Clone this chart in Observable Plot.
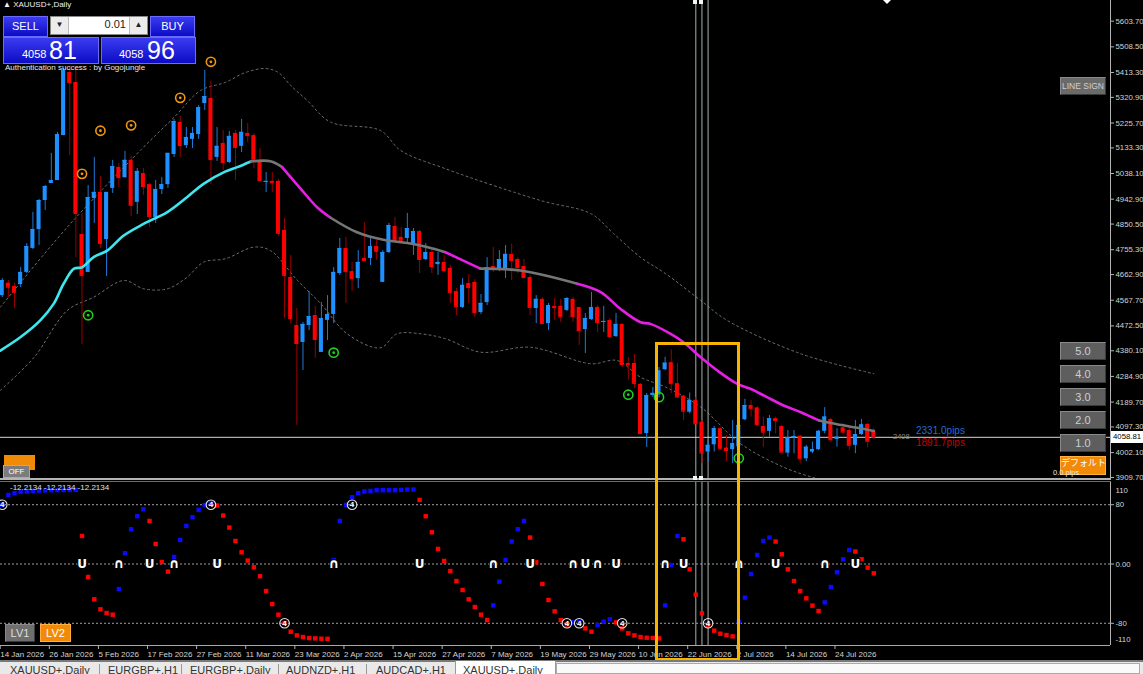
<!DOCTYPE html>
<html><head><meta charset="utf-8">
<script src="https://cdn.jsdelivr.net/npm/d3@7"></script>
<script src="https://cdn.jsdelivr.net/npm/@observablehq/plot@0.6"></script>
<style>
body{margin:0;background:#000;width:1143px;height:674px;overflow:hidden;position:relative;font-family:"Liberation Sans",Arial,sans-serif;}
.a{position:absolute;box-sizing:border-box;white-space:nowrap}
.btn{background:#5e5e5e;border:1px solid #8a8a8a;border-right-color:#3a3a3a;border-bottom-color:#3a3a3a;color:#cfcfcf;text-align:center;font-size:11px;line-height:16px}
.blue{background:linear-gradient(#3b3bf2,#0c0cc4);border:1px solid #6a6aff;color:#fff}
.tab{position:absolute;top:664px;font-size:11px;color:#333}
</style></head><body>
<div id="price" class="a" style="left:0;top:0"></div>
<div id="osc" class="a" style="left:0;top:482px"></div>
<div id="ui"></div>
<script>
// ---- candles (bar index 0 = 14 Jan 2026) ----
const opens  = [4585,4631,4619,4626,4671,4760,4830,4938,5001,5012,5179,5413,5376,4812,4671,4945,4968,4793,4983,5061,5023,5087,4931,5038,4997,4875,4979,4997,5109,5228,5142,5165,5183,5298,5317,5098,5150,5079,5187,5139,5187,5179,5087,5005,5009,5009,4827,4652,4474,4411,4474,4511,4374,4493,4515,4667,4760,4674,4648,4723,4723,4767,4634,4745,4842,4801,4797,4775,4823,4719,4745,4700,4708,4686,4600,4541,4630,4634,4522,4559,4693,4682,4682,4738,4719,4693,4652,4537,4571,4481,4545,4545,4530,4571,4541,4459,4496,4541,4485,4493,4433,4478,4333,4333,4255,4073,4214,4216,4310,4336,4258,4212,4152,4196,4115,4004,4031,4091,4019,4013,4024,4124,4177,4168,4099,4081,4128,4099,4000,4056,4063,3979,4004,4013,4081,4125,4051,4094,4084,4029,4069,4107,4082];
const highs  = [4648,4641,4630,4689,4778,4894,4942,4994,5113,5191,5428,5432,5432,4890,4994,5098,5027,4968,5087,5075,5120,5101,5057,5057,5001,5012,5023,5113,5239,5250,5209,5209,5291,5421,5380,5209,5198,5194,5198,5239,5224,5187,5131,5042,5042,5016,4871,4734,4537,4485,4600,4545,4559,4585,4689,4797,4801,4708,4752,4856,4801,4790,4752,4853,4875,4838,4890,4834,4827,4778,4756,4745,4734,4697,4611,4648,4663,4645,4589,4726,4764,4752,4771,4775,4726,4719,4660,4585,4578,4556,4574,4571,4578,4578,4541,4519,4597,4548,4545,4500,4519,4481,4355,4366,4259,4222,4244,4318,4356,4384,4332,4214,4223,4207,4121,4047,4099,4094,4066,4121,4134,4200,4196,4174,4134,4140,4134,4103,4084,4084,4066,4029,4041,4084,4169,4128,4091,4109,4094,4121,4125,4111,4091];
const lows   = [4578,4578,4537,4615,4667,4756,4771,4901,5001,5012,5179,5105,4726,4403,4671,4853,4760,4656,4964,4986,5020,4879,4886,4957,4838,4853,4960,4983,5098,5098,5131,5131,5165,5272,4997,5083,5049,5075,5012,5116,5153,5057,5009,4968,4968,4804,4500,4481,4103,4307,4455,4352,4374,4418,4481,4660,4556,4600,4611,4715,4697,4715,4634,4741,4782,4782,4782,4734,4667,4715,4667,4660,4671,4556,4511,4537,4556,4504,4515,4548,4671,4674,4648,4641,4667,4648,4511,4481,4481,4455,4493,4485,4526,4485,4400,4370,4493,4448,4448,4426,4429,4318,4270,4240,4073,4021,4207,4205,4307,4221,4202,4121,4146,4107,3961,3969,4004,4010,3969,3961,4010,4121,4134,4097,4022,4059,4072,4000,3985,3998,3961,3969,3998,4010,4072,4041,4022,4072,4010,3998,4066,4020,4050];
const closes = [4641,4616,4597,4671,4767,4830,4938,4990,5012,5183,5421,5376,4890,4660,4949,4968,4778,4968,5064,5023,5087,4920,5046,4990,4879,4979,4997,5113,5231,5142,5172,5187,5283,5324,5090,5139,5079,5176,5135,5191,5179,5087,5012,5009,5005,4816,4660,4500,4407,4478,4507,4422,4500,4515,4671,4760,4674,4648,4708,4715,4767,4749,4745,4845,4786,4790,4834,4823,4719,4745,4693,4708,4678,4597,4545,4623,4615,4522,4556,4689,4686,4719,4738,4715,4689,4652,4541,4571,4481,4548,4541,4507,4574,4507,4455,4500,4541,4485,4489,4433,4478,4329,4329,4259,4073,4214,4222,4305,4334,4258,4208,4156,4196,4109,4000,4029,4091,4016,4010,4035,4103,4177,4165,4106,4078,4128,4121,4004,4057,4062,3979,4022,4013,4081,4134,4050,4059,4078,4029,4069,4105,4044,4059];

// ---- moving average (index, price, trend of following segment) ----
const maIdx = [-0.3,3.0,6.2,8.4,10.0,11.7,13.0,14.9,17.1,19.8,23.1,26.9,30.1,32.8,36.4,38.3,40.5,43.7,45.6,48.6,51.3,53.5,57.8,62.1,66.0,69.2,72.2,77.9,84.4,93.7,97.5,100.7,104.0,105.6,108.9,111.0,113.8,116.5,119.7,121.9,124.6,127.3,130.1,133.1,136.0,139.3,142.0];
const maVal = [4381,4431,4493,4555,4629,4685,4690,4728,4752,4808,4852,4895,4950,5000,5046,5062,5083,5084,5062,4982,4913,4874,4820,4792,4780,4765,4746,4685,4678,4629,4598,4536,4486,4480,4443,4412,4356,4307,4258,4239,4208,4177,4152,4121,4107,4094,4082];
const maTrend = ["up","up","up","up","up","up","up","up","up","up","up","up","up","up","up","up","flat","flat","down","down","down","flat","flat","flat","flat","flat","down","flat","flat","down","down","down","down","down","down","down","down","down","down","down","down","down","down","flat","flat","flat","flat"];

// ---- envelope bands ----
const bandUpperIdx = [-0.3,10.6,22.5,28.0,32.3,36.4,39.6,42.9,45.0,47.0,49.7,53.5,61.6,64.9,72.2,87.7,95.9,99.6,104.0,108.1,113.8,118.1,130.1,142.0];
const bandUpperVal = [4542,4839,5124,5247,5346,5377,5413,5428,5413,5365,5309,5229,5198,5124,5056,4938,4889,4815,4727,4666,4567,4493,4369,4295];
const bandLowerIdx = [-0.3,5.2,10.6,14.9,19.8,23.1,26.9,30.1,32.8,36.4,41.0,43.7,48.1,51.9,56.2,61.6,64.3,68.2,72.2,77.9,86.1,95.9,100.2,104.0,108.1,113.8,120.3,127.3,132.8,137.4];
const bandLowerVal = [4233,4356,4530,4579,4641,4610,4610,4653,4709,4722,4765,4752,4641,4555,4443,4391,4443,4443,4425,4375,4393,4332,4344,4282,4245,4171,4035,3948,3905,3880];

// ---- signals on price chart ----
const orangeIdx = [13,16,21,29,34];
const orangePrice = [5037,5197,5217,5319,5453];
const greenIdx = [14,54,102,107,120];
const greenPrice = [4512,4373,4217,4208,3981];
const greenFilled = [true,true,true,false,true];

// ---- oscillator ----
const oscVal = [80,93.2,95.5,97.3,97.8,98.5,99,99.4,99.6,99.7,99.8,99.9,100,37.8,-17.6,-47.7,-61.2,-66.2,-68.4,-33.8,14.5,46.9,64.5,73.9,58.1,27,2.7,-10.3,9.5,32.4,51.4,63.1,73,79.7,82,78.9,65.4,49.2,31.1,15.8,4.6,-4.5,-16.6,-36.5,-54.1,-68.4,-79.7,-91.4,-96.4,-98.6,-100,-100.4,-100.8,-101,5.4,58.1,79.7,90.1,95.5,97.8,98.6,99.6,99.6,99.6,99.6,100,100.5,100.5,86.5,64.5,42.8,20.3,4.1,-9.5,-23,-35.1,-47.7,-58.1,-68.4,-75.7,-55.8,-23.8,5.4,30.3,46.9,58.1,35.7,2.3,-27,-48.6,-63.9,-75.7,-81.5,-78.8,-78.5,-86.9,-91.4,-82.4,-77.8,-74.7,-78.8,-86.9,-93.6,-96.4,-98.6,-99.5,-99.8,-100.4,-55.8,-1.4,37.8,33.4,-7.2,-41.4,-66.6,-82.4,-90,-94.1,-95.9,-97.7,-77.8,-45.4,-13.5,12.2,31.1,35.7,30.3,13.1,-7.2,-23,-36.5,-46.4,-56.2,-63.5,-51.8,-31.1,-11.2,6.4,18.9,16.8,6.4,-4.9,-12.6];
const oscUpSignals = [19,28,54,80,93,97,108,120,134];
const oscDownSignals = [13,24,35,68,86,95,100,111,126,139];
const levelIdx = [0,34,46,57,92,94,101,115];
const levelVal = [80,80,-80,80,-80,-80,-80,-80];
const oscLevels = [80,0,-80];

// ---- axes ----
const priceTicks = [5603.70,5508.50,5413.30,5320.90,5225.70,5133.30,5038.10,4942.90,4850.50,4755.30,4662.90,4567.70,4472.50,4380.10,4284.90,4189.70,4097.30,4002.10,3909.70];
const dateTickIdx = [0,8,16,24,32,40,48,56,64,72,80,88,96,104,112,120,128,136];
const dateTickLabels = ["14 Jan 2026","26 Jan 2026","5 Feb 2026","17 Feb 2026","27 Feb 2026","11 Mar 2026","23 Mar 2026","2 Apr 2026","15 Apr 2026","27 Apr 2026","7 May 2026","19 May 2026","29 May 2026","10 Jun 2026","22 Jun 2026","2 Jul 2026","14 Jul 2026","24 Jul 2026"];

const bid = 4058.81, ask = 4058.96;
const vLines = [113,114,115];
const highlight = {from:107, to:120, top:4411};

// ---------------------------------------------------------
const W = 1143;
const xDomain = [-0.28, 180.56];
const priceDomain = [3898.5, 5680.5];
const FONT = "Liberation Sans, Arial, sans-serif";
const COL = {up:"#1e90ff", down:"#ff0000", upWick:"#1f7ad6", downWick:"#9a0000"};
const maColor = {up:"#3fe6ee", flat:"#767676", down:"#e51fe5"};

const bars = opens.map((o,i)=>({i, open:o, high:highs[i], low:lows[i], close:closes[i], up:closes[i]>=o}));
const maRows = []; let run = 0;
for (let k=0;k<maIdx.length;k++){
  if (k>0 && k<maIdx.length-1 && maTrend[k]!==maTrend[k-1]) {
    maRows.push({run, i:maIdx[k], p:maVal[k], state:maTrend[k-1]}); run++;
  }
  maRows.push({run, i:maIdx[k], p:maVal[k], state:(k<maIdx.length-1?maTrend[k]:maTrend[k-1])});
}
const upperPts = bandUpperIdx.map((i,k)=>({i, p:bandUpperVal[k]}));
const lowerPts = bandLowerIdx.map((i,k)=>({i, p:bandLowerVal[k]}));
const oranges = orangeIdx.map((i,k)=>({i, p:orangePrice[k]}));
const greens = greenIdx.map((i,k)=>({i, p:greenPrice[k], filled:greenFilled[k]}));

const price = Plot.plot({
  width: W, height: 480, marginLeft: 0, marginRight: 33, marginTop: 0, marginBottom: 0,
  style: {background:"#000", color:"#d4d4d4", fontFamily: FONT, fontSize:"7.8px", overflow:"visible"},
  color: {type:"identity"},
  x: {domain: xDomain, axis: null},
  y: {domain: priceDomain, axis: null},
  marks: [
    Plot.line(upperPts, {x:"i", y:"p", stroke:"#6e6e6e", strokeWidth:1, strokeDasharray:"2,3", curve:"catmull-rom", clip:true}),
    Plot.line(lowerPts, {x:"i", y:"p", stroke:"#6e6e6e", strokeWidth:1, strokeDasharray:"2,3", curve:"catmull-rom", clip:true}),
    Plot.ruleX(vLines, {x:d=>d, stroke:"#a7b0b0", strokeWidth:1}),
    Plot.ruleY([bid], {y:d=>d, stroke:"#d6d6d6", strokeWidth:1}),
    Plot.ruleX(bars, {x:"i", y1:"low", y2:"high", stroke:d=>d.up?COL.upWick:COL.downWick, strokeWidth:1}),
    Plot.rect(bars, {x1:d=>d.i-0.33, x2:d=>d.i+0.33, y1:"open", y2:"close", fill:d=>d.up?COL.up:COL.down}),
    Plot.ruleY(bars, {x1:d=>d.i-0.33, x2:d=>d.i+0.33, y:"close", stroke:d=>d.up?COL.up:COL.down}),
    Plot.line(maRows, {x:"i", y:"p", z:"run", stroke:d=>maColor[d.state], strokeWidth:2.6, curve:"catmull-rom", strokeLinecap:"round"}),
    Plot.dot(oranges, {x:"i", y:"p", r:4.6, stroke:"#f0960f", strokeWidth:1.6, fill:"none"}),
    Plot.dot(oranges, {x:"i", y:"p", r:1.4, fill:"#f0960f"}),
    Plot.dot(greens, {x:"i", y:"p", r:4.6, stroke:"#1fcf1f", strokeWidth:1.6, fill:"none"}),
    Plot.dot(greens.filter(d=>d.filled), {x:"i", y:"p", r:1.4, fill:"#1fcf1f"}),
    Plot.ruleX([xDomain[1]], {x:d=>d, stroke:"#b4b4b4"}),
    Plot.axisY({anchor:"right", label:null, ticks: priceTicks, tickFormat:d=>d.toFixed(2), tickSize:3, tickPadding:2, stroke:"#b4b4b4"})
  ]
});
document.getElementById("price").appendChild(price);

const oscRows = oscVal.map((v,i)=>({i, v, up: i===0 || v>=oscVal[i-1]}));
const levels = levelIdx.map((i,k)=>({i, v:levelVal[k]}));
const osc = Plot.plot({
  width: W, height: 182, marginLeft: 0, marginRight: 33, marginTop: 0, marginBottom: 19,
  style: {background:"#000", color:"#d4d4d4", fontFamily: FONT, fontSize:"7.8px", overflow:"visible"},
  color: {type:"identity"},
  x: {domain: xDomain, axis: null},
  y: {domain: [-110, 110], axis: null},
  marks: [
    Plot.ruleY(oscLevels, {y:d=>d, stroke:"#a0a0a0", strokeDasharray:"2,2", strokeWidth:1}),
    Plot.ruleX(vLines, {x:d=>d, stroke:"#a7b0b0", strokeWidth:1}),
    Plot.dot(oscRows, {x:"i", y:"v", fill:d=>d.up?"#0a0aff":"#ff0000", symbol:"square", r:2.5}),
    Plot.dot(levels, {x:"i", y:"v", r:4.8, stroke:"#e6e6e6", strokeWidth:1.1, fill:"none"}),
    Plot.text(levels, {x:"i", y:"v", text:()=>"4", fill:"#ffffff", fontSize:8, fontWeight:"bold"}),
    Plot.text(oscUpSignals, {x:d=>d, y:()=>0, text:()=>"∩", fill:"#ffffff", stroke:"#000", strokeWidth:2, fontSize:13, fontWeight:"bold", fontFamily:"DejaVu Sans"}),
    Plot.text(oscDownSignals, {x:d=>d, y:()=>0, text:()=>"U", fill:"#ffffff", stroke:"#000", strokeWidth:2, fontSize:12, fontWeight:"bold", fontFamily:"DejaVu Sans"}),
    Plot.ruleY([-110], {y:d=>d, stroke:"#a8a8a8"}),
    Plot.ruleX([xDomain[1]], {x:d=>d, stroke:"#b4b4b4"}),
    Plot.axisY({anchor:"right", label:null, ticks: oscLevels, tickFormat:d=>d===0?"0.00":String(d), tickSize:3, tickPadding:2, stroke:"#b4b4b4"}),
    Plot.text(["110"], {text:d=>d, frameAnchor:"top-right", dx:5, dy:5, textAnchor:"start"}),
    Plot.text(["-110"], {text:d=>d, frameAnchor:"bottom-right", dx:5, dy:-4, textAnchor:"start"}),
    Plot.axisX({anchor:"bottom", label:null, ticks: dateTickIdx, tickFormat:d=>dateTickLabels[dateTickIdx.indexOf(d)], tickSize:4, tickPadding:2, textAnchor:"start", dx:-2, fontSize:8, stroke:"#b4b4b4"})
  ]
});
document.getElementById("osc").appendChild(osc);

// ---- overlays positioned through the plot scales ----
const xs = price.scale("x"), ys = price.scale("y");
const px = i => xs.apply(i), py = v => ys.apply(v);
const bidY = py(bid);
const bidStr = bid.toFixed(2), askStr = ask.toFixed(2);
const [bidBig, bidSmall] = [bidStr.slice(0,4), bidStr.slice(5)];
const [askBig, askSmall] = [askStr.slice(0,4), askStr.slice(5)];
let h = "";
// separator between panels
h += `<div class="a" style="left:0;top:478px;width:1111px;height:2px;background:#b4b4b4"></div>`;
h += `<div class="a" style="left:0;top:481px;width:1111px;height:1px;background:#6c6c6c"></div>`;
// white squares on vertical lines
vLines.slice(0,2).forEach(i=>{
  h += `<div class="a" style="left:${px(i)-2}px;top:0;width:4px;height:4px;background:#f4f4f4"></div>`;
  h += `<div class="a" style="left:${px(i)-2}px;top:476px;width:4px;height:4px;background:#f4f4f4"></div>`;
});
h += `<div class="a" style="left:883px;top:0;width:0;height:0;border-left:4px solid transparent;border-right:4px solid transparent;border-top:4px solid #fff"></div>`;
// title
h += `<div class="a" style="left:3px;top:0px;font-size:8px;color:#f0f0f0">▲ XAUUSD+,Daily</div>`;
h += `<div class="a" style="left:5px;top:63px;font-size:8px;color:#e8e8e8">Authentication success : by Gogojungle</div>`;
// trade panel
h += `<div class="a blue" style="left:3px;top:16px;width:45px;height:21px;font-size:11px;text-align:center;line-height:19px">SELL</div>`;
h += `<div class="a blue" style="left:150px;top:16px;width:45px;height:21px;font-size:11px;text-align:center;line-height:19px">BUY</div>`;
h += `<div class="a" style="left:50px;top:16px;width:98px;height:19px;background:#fff;border:1px solid #888"></div>`;
h += `<div class="a" style="left:51px;top:17px;width:18px;height:17px;background:#ececec;border-right:1px solid #bbb;font-size:8px;text-align:center;line-height:15px;color:#222">▼</div>`;
h += `<div class="a" style="left:129px;top:17px;width:18px;height:17px;background:#ececec;border-left:1px solid #bbb;font-size:8px;text-align:center;line-height:15px;color:#222">▲</div>`;
h += `<div class="a" style="left:70px;top:18px;width:56px;font-size:11px;text-align:right;color:#222">0.01</div>`;
h += `<div class="a blue" style="left:3px;top:37px;width:96px;height:27px"><span class="a" style="left:18px;top:10px;font-size:11px">${bidBig}</span><span class="a" style="left:45px;top:-2px;font-size:25px">${bidSmall}</span></div>`;
h += `<div class="a blue" style="left:101px;top:37px;width:95px;height:27px"><span class="a" style="left:17px;top:10px;font-size:11px">${askBig}</span><span class="a" style="left:45px;top:-2px;font-size:25px">${askSmall}</span></div>`;
// right buttons
h += `<div class="a btn" style="left:1060px;top:77px;width:46px;height:18px;font-size:8.5px;background:#6a6a6a">LINE SIGN</div>`;
["5.0","4.0","3.0","2.0","1.0"].forEach((t,k)=>{
  h += `<div class="a btn" style="left:1060px;top:${342+k*23}px;width:46px;height:18px">${t}</div>`;
});
h += `<div class="a" style="left:1060px;top:456px;width:46px;height:19px;background:#f18a06;border:1px solid #ffb040"></div>`;
h += `<div class="a" style="left:1061px;top:457px;width:44px;height:11px;color:#fff;font-size:9px;font-family:'Noto Sans CJK JP';text-align:center;line-height:11px;overflow:hidden">デフォルト</div>`;
h += `<div class="a" style="left:1053px;top:469px;height:8px;font-size:7.5px;line-height:8px;color:#e8e8e8">0.0 pips</div>`;
// left orange / OFF
h += `<div class="a" style="left:4px;top:455px;width:31px;height:15px;background:#f18a06"></div>`;
h += `<div class="a" style="left:3px;top:465px;width:27px;height:13px;background:#7c7c7c;border:1px solid #aaa;color:#fff;font-size:8px;text-align:center;line-height:11px">OFF</div>`;
// bid label & pips
h += `<div class="a" style="left:1111px;top:${bidY-6}px;width:32px;height:12px;background:#fff;color:#000;font-size:7.8px;line-height:12px;padding-left:2px">${bidStr}</div>`;
h += `<div class="a" style="left:893px;top:${bidY-5}px;font-size:7.5px;color:#8a8a8a">2408</div>`;
h += `<div class="a" style="left:916px;top:${bidY-12}px;font-size:10px;color:#1f6fd6">2331.0pips</div>`;
h += `<div class="a" style="left:916px;top:${bidY}px;font-size:10px;color:#c40000">1891.7pips</div>`;
// oscillator panel texts and buttons
h += `<div class="a" style="left:10px;top:483px;font-size:8px;color:#e0e0e0">-12.2134 -12.2134 -12.2134</div>`;
h += `<div class="a btn" style="left:5px;top:624px;width:30px;height:18px;background:#6e6e6e;color:#ddd">LV1</div>`;
h += `<div class="a" style="left:40px;top:624px;width:31px;height:18px;background:#f18a06;border:1px solid #ffb040;color:#fff;font-size:11px;text-align:center;line-height:16px">LV2</div>`;
// highlight box
const hx1 = px(highlight.from)-3, hx2 = px(highlight.to)+2, hy = py(highlight.top);
h += `<div class="a" style="left:${hx1}px;top:${hy}px;width:${hx2-hx1}px;height:${661-hy}px;border:3px solid #f7b400"></div>`;
// tabs
h += `<div class="a" style="left:0;top:660px;width:1143px;height:14px;background:#e9e9e9;border-top:2px solid #7a7a7a"></div>`;
h += `<div class="a" style="left:455px;top:661px;width:101px;height:13px;background:#fff;border-left:1px solid #999;border-right:1px solid #999"></div>`;
h += `<div class="a" style="left:556px;top:663px;width:584px;height:11px;background:#fafafa;border:1px solid #aaa"></div>`;
const tabs = ["XAUUSD+,Daily","EURGBP+,H1","EURGBP+,Daily","AUDNZD+,H1","AUDCAD+,H1","XAUUSD+,Daily"];
const tabX = [10,108,190,286,376,463];
tabs.forEach((t,k)=>{ h += `<div class="tab" style="left:${tabX[k]}px">${t}</div>`; });
[99,181,278,366,455].forEach(x=>{ h += `<div class="a" style="left:${x}px;top:664px;width:1px;height:10px;background:#999"></div>`; });
document.getElementById("ui").innerHTML = h;
</script>
</body></html>
